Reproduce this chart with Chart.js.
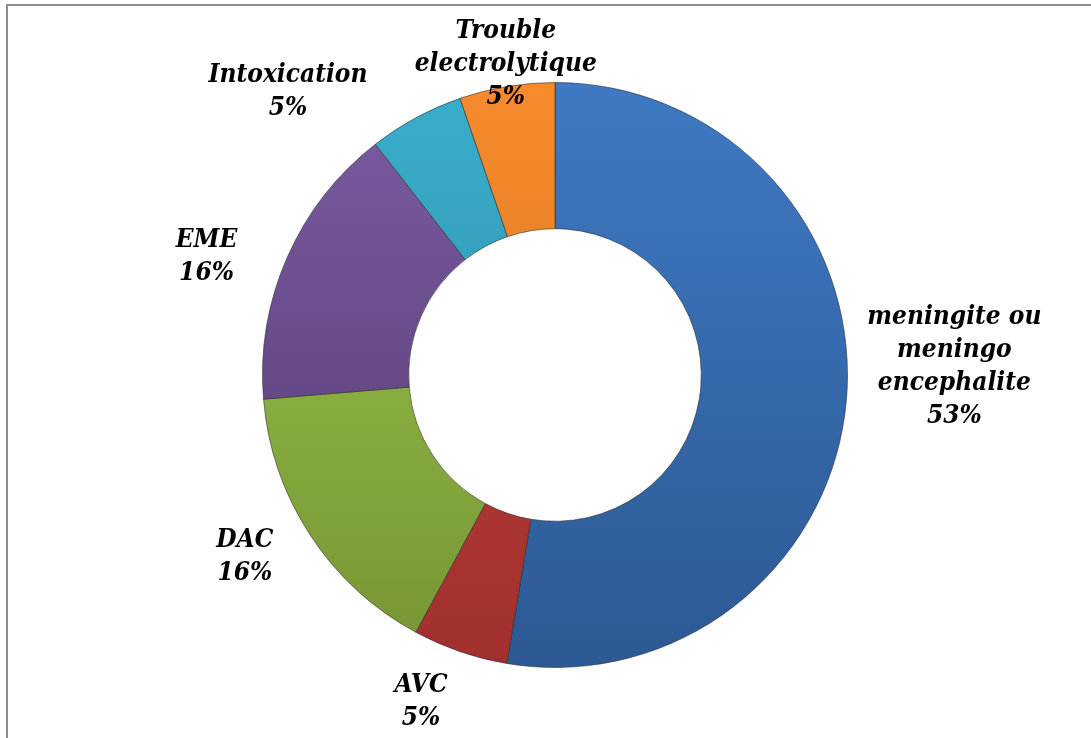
<!DOCTYPE html>
<html>
    <head>
        <title>Doughnut</title>
        <script src="https://cdn.jsdelivr.net/npm/chart.js"></script>
        <style>
            body { margin: 0; background: #ffffff; }
            #frame {
                position: absolute; left: 6px; top: 4px; width: 1100px; height: 760px;
                border-left: 2px solid #8e8e8e; border-top: 2px solid #8e8e8e;
            }
            #wrap { position: absolute; left: 0; top: 0; width: 1091px; height: 738px; }
        </style>
        <script type="text/javascript">
            // data (counts giving 53/5/16/16/5/5 %)
            const categories = [
                ["meningite ou", "meningo", "encephalite"],
                ["AVC"],
                ["DAC"],
                ["EME"],
                ["Intoxication"],
                ["Trouble", "electrolytique"]
            ];
            const counts = [10, 1, 3, 3, 1, 1];
            const colorsTop = ["#3f79c3", "#c8423d", "#9cc84c", "#7d5ca3", "#3aadcb", "#f68b2e"];
            const colorsBottom = ["#2c5993", "#a0302e", "#769434", "#4f3a6d", "#2a8aa3", "#d0701c"];
            // label placement: radial factor of outer radius, then nudge in px
            const labelPlace = [
                [1.37, 0, -41],
                [1.20, -20, -5],
                [1.23, -9, -15],
                [1.26, -11, 30],
                [1.02, -125, -21],
                [1.085, 3, 2]
            ];

            document.addEventListener('DOMContentLoaded', init);

            function makeGradient(ctx, chart, i) {
                const area = chart.chartArea;
                if (!area) return colorsTop[i];
                let g = ctx.createLinearGradient(0, area.top, 0, area.bottom);
                g.addColorStop(0, colorsTop[i]);
                g.addColorStop(1, colorsBottom[i]);
                return g;
            }

            const labelPlugin = {
                id: 'sliceLabels',
                afterDraw(chart) {
                    const ctx = chart.ctx;
                    const arcs = chart.getDatasetMeta(0).data;
                    const total = counts.reduce((a, b) => a + b, 0);
                    ctx.save();
                    ctx.font = 'italic bold 26px "DejaVu Serif Condensed", "DejaVu Serif", serif';
                    ctx.fillStyle = '#000000';
                    ctx.textAlign = 'center';
                    ctx.textBaseline = 'middle';
                    for (let i = 0; i < arcs.length; i++) {
                        const a = arcs[i];
                        const mid = (a.startAngle + a.endAngle) / 2;
                        const r = a.outerRadius * labelPlace[i][0];
                        const cx = a.x + Math.cos(mid) * r + labelPlace[i][1];
                        const cy = a.y + Math.sin(mid) * r + labelPlace[i][2];
                        const lines = categories[i].concat([Math.round(counts[i] / total * 100) + "%"]);
                        for (let j = 0; j < lines.length; j++) {
                            ctx.fillText(lines[j], cx, cy + (j - (lines.length - 1) / 2) * 33);
                        }
                    }
                    ctx.restore();
                }
            };

            function init() {
                const canvas = document.getElementById("myChart");
                let ctx = canvas.getContext('2d');
                let chart = new Chart(ctx, {
                    type: 'doughnut',
                    data: {
                        labels: categories,
                        datasets: [{
                            data: counts,
                            backgroundColor: (c) => makeGradient(ctx, c.chart, c.dataIndex),
                            borderColor: 'rgba(40,40,40,0.55)',
                            borderWidth: 1
                        }]
                    },
                    options: {
                        responsive: false,
                        animation: false,
                        cutout: '50%',
                        layout: { padding: { left: 262, right: 243, top: 82, bottom: 70 } },
                        plugins: {
                            legend: { display: false },
                            tooltip: { enabled: false }
                        }
                    },
                    plugins: [labelPlugin]
                });
            }
        </script>
    </head>
    <body>
        <div id="frame"></div>
        <div id="wrap">
            <canvas id="myChart" width="1091" height="738"></canvas>
        </div>
    </body>
</html>
